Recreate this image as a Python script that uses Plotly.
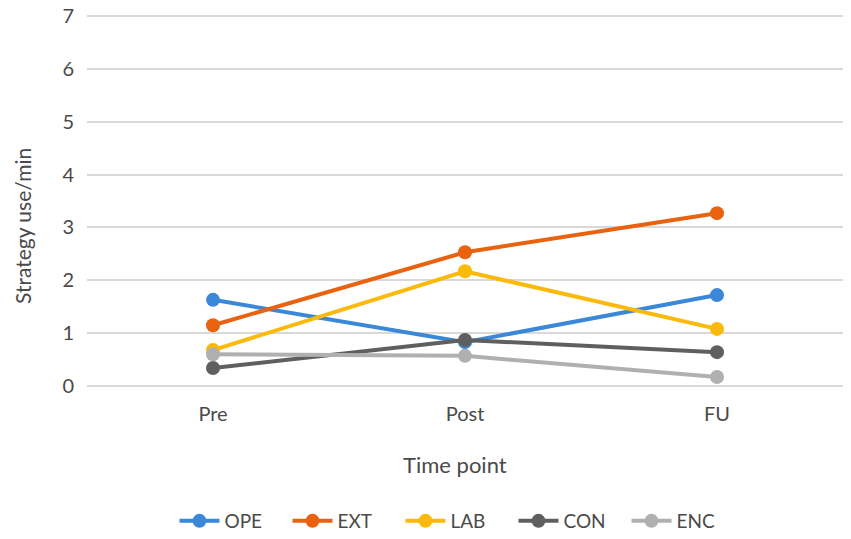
import plotly.graph_objects as go

# time points and strategy-use rates (per minute)
time_points = ["Pre", "Post", "FU"]
ope = [1.63, 0.83, 1.72]
ext = [1.15, 2.53, 3.27]
lab = [0.68, 2.17, 1.08]
con = [0.34, 0.87, 0.64]
enc = [0.60, 0.57, 0.17]

series = [
    ("OPE", ope, "#3b88d8"),
    ("EXT", ext, "#e8620f"),
    ("LAB", lab, "#fbb909"),
    ("CON", con, "#5f5f5f"),
    ("ENC", enc, "#b0b0b0"),
]

FONT = "Lato, Open Sans, sans-serif"
TEXT = "#4a4a4a"

fig = go.Figure()
for name, vals, color in series:
    fig.add_trace(go.Scatter(
        x=time_points, y=vals, name=name,
        mode="lines+markers",
        line=dict(color=color, width=4),
        marker=dict(color=color, size=14),
    ))

# axis titles sit off-centre in the original, so they are annotations here
fig.add_annotation(text="Time point", xref="paper", yref="paper",
                   x=0.487, y=-0.21, xanchor="center", yanchor="middle",
                   showarrow=False, font=dict(size=22, color=TEXT))
fig.add_annotation(text="Strategy use/min", xref="paper", yref="paper",
                   x=-0.086, y=0.43, xanchor="center", yanchor="middle",
                   textangle=-90, showarrow=False, font=dict(size=21, color=TEXT))

# top of the range is padded a little so the 7 gridline is not clipped
fig.update_layout(
    width=851, height=539,
    margin=dict(l=87, r=8, t=14, b=153),
    paper_bgcolor="white",
    plot_bgcolor="white",
    font=dict(family=FONT, size=20, color=TEXT),
    showlegend=True,
    legend=dict(
        orientation="h",
        xref="container", yref="container",
        x=0.537, xanchor="center",
        y=0.0334, yanchor="middle",
        font=dict(size=19, color=TEXT),
        entrywidth=58,
        itemwidth=40,
        tracegroupgap=0,
    ),
    xaxis=dict(
        type="category",
        range=[-0.5, 2.5],
        automargin=False,
        showgrid=False, showline=False, zeroline=False,
        ticks="", ticklabelstandoff=14,
    ),
    yaxis=dict(
        range=[0, 7.038],
        tickvals=[0, 1, 2, 3, 4, 5, 6, 7],
        automargin=False,
        ticklabeloverflow="allow",
        showgrid=True, gridcolor="#d9d9d9", gridwidth=1.5,
        zeroline=True, zerolinecolor="#d9d9d9", zerolinewidth=1.5,
        showline=False, ticks="", ticklabelstandoff=12,
    ),
)

# drop the browser's default 8px body margin so the figure fills the window
fig.write_html("out.html", config={"displayModeBar": False},
               post_script="document.body.style.margin = '0';")
